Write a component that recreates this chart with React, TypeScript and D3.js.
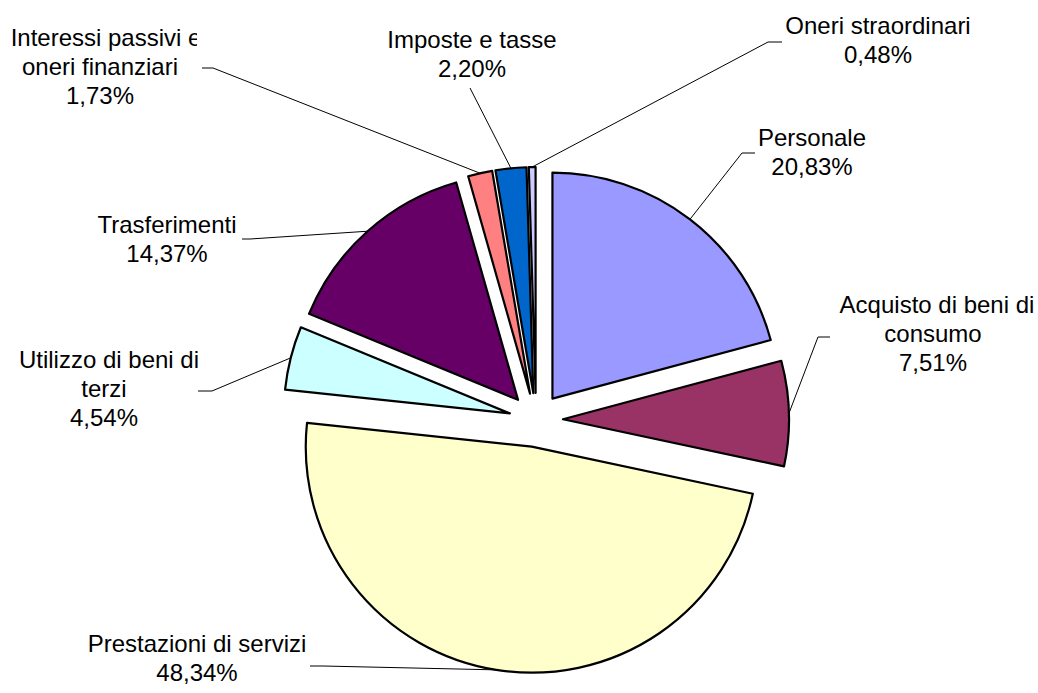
import React, { useEffect, useRef } from "react";
import * as d3 from "d3";

// slices, clockwise from 12 o'clock
const categories = [
  "Personale",
  "Acquisto di beni di consumo",
  "Prestazioni di servizi",
  "Utilizzo di beni di terzi",
  "Trasferimenti",
  "Interessi passivi e oneri finanziari",
  "Imposte e tasse",
  "Oneri straordinari",
];
const labelLines = [
  ["Personale"],
  ["Acquisto di beni di", "consumo"],
  ["Prestazioni di servizi"],
  ["Utilizzo di beni di", "terzi"],
  ["Trasferimenti"],
  ["Interessi passivi e", "oneri finanziari"],
  ["Imposte e tasse"],
  ["Oneri straordinari"],
];
const percentages = [20.83, 7.51, 48.34, 4.54, 14.37, 1.73, 2.2, 0.48];
const colors = [
  "#9999FF",
  "#993366",
  "#FFFFCC",
  "#CCFFFF",
  "#660066",
  "#FF8080",
  "#0066CC",
  "#CCCCFF",
];

// label placement (center x, first baseline, leader elbow + end)
const labelLayout = [
  { x: 812, y: 146, elbow: [742, 153], end: [755, 153] },
  { x: 933, y: 313, elbow: [818, 337], end: [830, 337], firstDx: 4 },
  { x: 197, y: 652, elbow: [323, 666], end: [310, 666] },
  { x: 104, y: 368, elbow: [212, 391], end: [198, 391], firstDx: 5, clip: 199 },
  { x: 167, y: 233, elbow: [250, 239], end: [242, 239] },
  { x: 100, y: 46, elbow: [213, 68], end: [202, 68], firstDx: 6, clip: 197 },
  { x: 472, y: 48, elbow: [470, 88], end: [470, 88] },
  { x: 878, y: 34, elbow: [768, 42], end: [782, 42] },
];

const W = 1038;
const H = 693;
const cx = 536;
const cy = 420;
const radius = 226;
const explode = 27;
const lineH = 29;

const fmt = (v: number) => d3.format(".2f")(v).replace(".", ",") + "%";

const App = () => {
  const svgRef = useRef<SVGSVGElement>(null);

  useEffect(() => {
    const svg = d3.select(svgRef.current);
    svg.selectAll("*").remove();

    const data = categories.map((c, i) => ({ name: c, value: percentages[i], i }));
    const pie = d3
      .pie<any>()
      .sort(null)
      .value((d) => d.value);
    const arc = d3.arc<any>().innerRadius(0).outerRadius(radius);
    const arcs = pie(data);

    const dir = (a: number) => [Math.sin(a), -Math.cos(a)];

    const g = svg.append("g").attr("transform", `translate(${cx},${cy})`);

    g.selectAll("path")
      .data(arcs)
      .enter()
      .append("path")
      .attr("d", arc)
      .attr("transform", (d) => {
        const m = (d.startAngle + d.endAngle) / 2;
        const [dx, dy] = dir(m);
        return `translate(${dx * explode},${dy * explode})`;
      })
      .attr("fill", (d) => colors[d.data.i])
      .attr("stroke", "#000")
      .attr("stroke-width", 2.2)
      .attr("stroke-linejoin", "round");

    // leader lines
    arcs.forEach((d) => {
      const m = (d.startAngle + d.endAngle) / 2;
      const [dx, dy] = dir(m);
      const ox = cx + dx * (explode + radius);
      const oy = cy + dy * (explode + radius);
      const lay = labelLayout[d.data.i];
      svg
        .append("path")
        .attr("d", d3.line()([[ox, oy], lay.elbow as any, lay.end as any]))
        .attr("fill", "none")
        .attr("stroke", "#000")
        .attr("stroke-width", 1);
    });

    const defs = svg.append("defs");

    // labels
    arcs.forEach((d) => {
      const i = d.data.i;
      const lay: any = labelLayout[i];
      const lines = [...labelLines[i], fmt(percentages[i])];
      const tg = svg
        .append("g")
        .attr("font-family", "'Liberation Sans', Arial, sans-serif")
        .attr("font-size", 24)
        .attr("fill", "#000")
        .attr("text-anchor", "middle");
      if (lay.clip) {
        defs
          .append("clipPath")
          .attr("id", "clip" + i)
          .append("rect")
          .attr("x", 0)
          .attr("y", 0)
          .attr("width", lay.clip)
          .attr("height", H);
        tg.attr("clip-path", `url(#clip${i})`);
      }
      lines.forEach((t, k) => {
        tg.append("text")
          .attr("x", lay.x + (k === 0 && lay.firstDx ? lay.firstDx : 0))
          .attr("y", lay.y + k * lineH)
          .text(t);
      });
    });
  }, []);

  return (
    <svg
      ref={svgRef}
      width={W}
      height={H}
      style={{ position: "absolute", left: 0, top: 0, background: "#fff" }}
    />
  );
};

export default App;
